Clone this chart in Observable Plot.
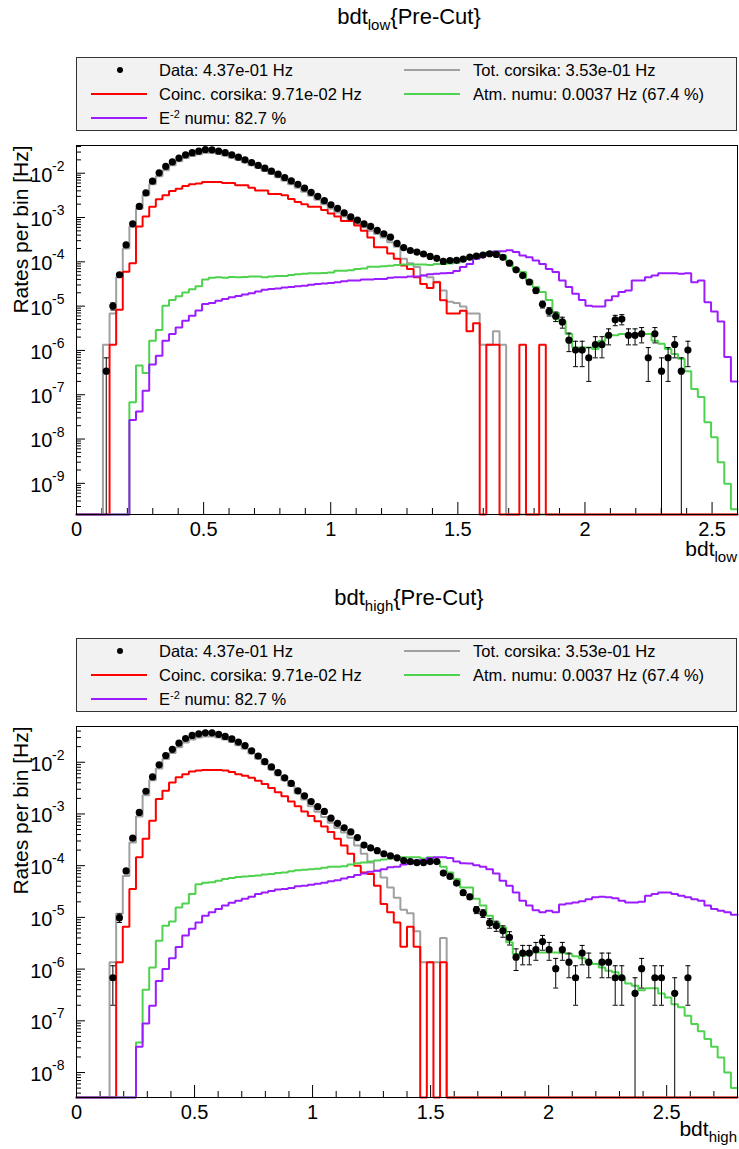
<!DOCTYPE html>
<html>
<head>
<meta charset="utf-8">
<script src="https://cdn.jsdelivr.net/npm/d3@7"></script>
<script src="https://cdn.jsdelivr.net/npm/@observablehq/plot@0.6"></script>
<style>
  html, body { margin: 0; padding: 0; background: #fff; }
  #page { position: relative; width: 739px; height: 1149px; overflow: hidden;
          font-family: "Liberation Sans", Arial, Helvetica, sans-serif; color: #000; }
  .title { position: absolute; left: 76px; width: 666px; text-align: center;
           font-size: 22px; line-height: 28px; white-space: nowrap; }
  .sub { position: relative; top: 6px; font-size: 15px; }
  .sup { position: relative; top: -6px; font-size: 11px; }
  .xtitle { position: absolute; right: 2px; font-size: 21px; line-height: 28px; white-space: nowrap; }
  .legend { position: absolute; left: 76px; width: 659px; background: #f2f2f2; border: 1px solid #333; }
  .entry { position: absolute; height: 22px; line-height: 22px; font-size: 16.5px; white-space: nowrap; }
  .swatch { position: absolute; height: 0; border-top: 2px solid; }
  .ldot { position: absolute; width: 6px; height: 6px; border-radius: 50%; background: #000; }
  .panel { position: absolute; left: 0; }
</style>
</head>
<body>
<div id="page"></div>
<script>
// ---------------- data (rates per bin, Hz), 100 bins each ----------------
// Panel 1: bdt_low, 100 bins on [0, 2.6]
const binWidth1 = 0.026;
const data1 = [
  0, 0, 0, 0, 3.4e-7, 1.0e-5, 5.1e-5, 2.4e-4, 7.2e-4, 1.78e-3,
  3.6e-3, 6.6e-3, 1.02e-2, 1.42e-2, 1.8e-2, 2.2e-2, 2.6e-2, 2.9e-2, 3.15e-2, 3.4e-2,
  3.37e-2, 3.15e-2, 2.9e-2, 2.6e-2, 2.3e-2, 2.0e-2, 1.74e-2, 1.5e-2, 1.3e-2, 1.11e-2,
  9.5e-3, 8.0e-3, 6.7e-3, 5.6e-3, 4.6e-3, 3.7e-3, 3.0e-3, 2.4e-3, 1.94e-3, 1.6e-3,
  1.27e-3, 1.03e-3, 8.7e-4, 7.2e-4, 6.3e-4, 5.1e-4, 4.3e-4, 3.6e-4, 2.6e-4, 2.1e-4,
  1.8e-4, 1.66e-4, 1.5e-4, 1.32e-4, 1.2e-4, 1.02e-4, 1.07e-4, 1.08e-4, 1.15e-4, 1.28e-4,
  1.35e-4, 1.42e-4, 1.52e-4, 1.47e-4, 1.26e-4, 9.3e-5, 6.6e-5, 4.9e-5, 3.5e-5, 2.24e-5,
  1.1e-5, 7.6e-6, 5.9e-6, 4.4e-6, 1.7e-6, 1.02e-6, 1.02e-6, 6.8e-7, 1.36e-6, 1.36e-6,
  2.2e-6, 4.9e-6, 5.1e-6, 2.2e-6, 2.2e-6, 2.38e-6, 6.8e-7, 2.38e-6, 3.4e-7, 6.8e-7,
  1.36e-6, 3.4e-7, 1.02e-6, 0, 0, 0, 0, 0, 0, 0
];
const err1 = [
  0, 0, 0, 0, 3.4e-7, 1.84e-6, 4.16e-6, 0, 0, 0,
  0, 0, 0, 0, 0, 0, 0, 0, 0, 0,
  0, 0, 0, 0, 0, 0, 0, 0, 0, 0,
  0, 0, 0, 0, 0, 0, 0, 0, 0, 0,
  0, 0, 0, 0, 0, 0, 0, 0, 0, 0,
  0, 0, 0, 0, 0, 0, 0, 0, 0, 0,
  0, 0, 0, 0, 6.5e-6, 5.6e-6, 4.7e-6, 4.1e-6, 3.45e-6, 2.76e-6,
  1.93e-6, 1.61e-6, 1.42e-6, 1.22e-6, 7.6e-7, 5.9e-7, 5.9e-7, 4.8e-7, 6.8e-7, 6.8e-7,
  8.65e-7, 1.29e-6, 1.32e-6, 8.65e-7, 8.65e-7, 9.0e-7, 4.8e-7, 9.0e-7, 3.4e-7, 4.8e-7,
  6.8e-7, 3.4e-7, 5.9e-7, 0, 0, 0, 0, 0, 0, 0
];
const totCorsika1 = [
  0, 0, 0, 0, 1.35e-6, 6.8e-6, 4.47e-5, 2.0e-4, 6.3e-4, 1.58e-3,
  3.16e-3, 5.62e-3, 8.5e-3, 1.17e-2, 1.51e-2, 1.86e-2, 2.19e-2, 2.45e-2, 2.69e-2, 2.88e-2,
  2.88e-2, 2.75e-2, 2.51e-2, 2.24e-2, 2.0e-2, 1.74e-2, 1.51e-2, 1.32e-2, 1.12e-2, 9.55e-3,
  8.13e-3, 6.76e-3, 5.62e-3, 4.68e-3, 3.8e-3, 3.09e-3, 2.51e-3, 2.0e-3, 1.58e-3, 1.29e-3,
  1.05e-3, 8.3e-4, 7.1e-4, 6.0e-4, 5.0e-4, 4.27e-4, 3.55e-4, 2.75e-4, 2.19e-4, 1.17e-4,
  9.3e-5, 7.6e-5, 4.9e-5, 4.47e-5, 3.55e-5, 2.24e-5, 1.26e-5, 1.17e-5, 9.8e-6, 6.8e-6,
  6.8e-6, 1.35e-6, 1.35e-6, 2.7e-6, 1.35e-6, 0, 0, 0, 0, 0,
  0, 0, 0, 0, 0, 0, 0, 0, 0, 0,
  0, 0, 0, 0, 0, 0, 0, 0, 0, 0,
  0, 0, 0, 0, 0, 0, 0, 0, 0, 0
];
const coincCorsika1 = [
  0, 0, 0, 0, 0, 1.35e-6, 8.3e-6, 6.0e-5, 9.3e-5, 6.3e-4,
  1.05e-3, 1.74e-3, 2.57e-3, 3.16e-3, 3.98e-3, 4.47e-3, 5.13e-3, 5.62e-3, 5.89e-3, 6.31e-3,
  6.31e-3, 6.31e-3, 6.03e-3, 6.03e-3, 5.37e-3, 5.37e-3, 4.68e-3, 4.07e-3, 4.07e-3, 3.39e-3,
  3.39e-3, 3.16e-3, 2.63e-3, 2.24e-3, 2.0e-3, 1.74e-3, 1.74e-3, 1.48e-3, 1.23e-3, 1.05e-3,
  8.3e-4, 8.3e-4, 6.6e-4, 5.0e-4, 3.55e-4, 2.14e-4, 2.14e-4, 1.55e-4, 1.17e-4, 8.3e-5,
  6.9e-5, 4.47e-5, 3.16e-5, 2.57e-5, 3.47e-5, 1.35e-5, 6.8e-6, 6.8e-6, 7.9e-6, 2.7e-6,
  4.1e-6, 0, 1.35e-6, 1.35e-6, 0, 0, 0, 1.35e-6, 0, 0,
  1.35e-6, 0, 0, 0, 0, 0, 0, 0, 0, 0,
  0, 0, 0, 0, 0, 0, 0, 0, 0, 0,
  0, 0, 0, 0, 0, 0, 0, 0, 0, 0
];
const atmNumu1 = [
  0, 0, 0, 0, 0, 0, 0, 0, 6.8e-8, 4.57e-7,
  3.09e-7, 1.66e-6, 2.88e-6, 1.02e-5, 1.38e-5, 1.66e-5, 2.04e-5, 2.4e-5, 2.82e-5, 3.98e-5,
  4.37e-5, 4.47e-5, 4.37e-5, 4.57e-5, 4.47e-5, 4.57e-5, 4.68e-5, 4.68e-5, 4.47e-5, 4.68e-5,
  4.79e-5, 4.79e-5, 5.01e-5, 5.25e-5, 5.37e-5, 5.5e-5, 5.5e-5, 5.62e-5, 5.75e-5, 6.31e-5,
  6.31e-5, 6.46e-5, 6.92e-5, 7.08e-5, 7.76e-5, 7.76e-5, 7.94e-5, 8.13e-5, 8.51e-5, 8.71e-5,
  8.71e-5, 8.71e-5, 8.71e-5, 8.51e-5, 8.91e-5, 8.91e-5, 9.12e-5, 9.55e-5, 1.12e-4, 1.26e-4,
  1.38e-4, 1.51e-4, 1.66e-4, 1.7e-4, 1.38e-4, 9.77e-5, 6.92e-5, 5.89e-5, 3.8e-5, 2.69e-5,
  2.09e-5, 1.38e-5, 7.08e-6, 4.57e-6, 2.34e-6, 1.17e-6, 1.17e-6, 1.17e-6, 1.07e-6, 1.66e-6,
  2.19e-6, 2.19e-6, 2.34e-6, 2.34e-6, 2.34e-6, 2.34e-6, 2.34e-6, 1.66e-6, 1.41e-6, 1.07e-6,
  8.3e-7, 6.46e-7, 3.39e-7, 1.35e-7, 8.9e-8, 2.4e-8, 1.1e-8, 3.0e-9, 9.8e-10, 2.6e-10
];
const e2Numu1 = [
  0, 0, 0, 0, 0, 0, 0, 0, 2.69e-8, 4.17e-8,
  1.23e-7, 4.79e-7, 7.59e-7, 1.66e-6, 2.34e-6, 3.31e-6, 4.68e-6, 6.03e-6, 7.94e-6, 1.12e-5,
  1.17e-5, 1.32e-5, 1.45e-5, 1.58e-5, 1.7e-5, 1.82e-5, 1.95e-5, 2.14e-5, 2.34e-5, 2.45e-5,
  2.51e-5, 2.63e-5, 2.69e-5, 2.82e-5, 2.88e-5, 3.02e-5, 3.16e-5, 3.24e-5, 3.31e-5, 3.47e-5,
  3.63e-5, 3.8e-5, 3.8e-5, 3.98e-5, 3.98e-5, 4.07e-5, 4.07e-5, 4.37e-5, 4.47e-5, 4.47e-5,
  4.68e-5, 4.68e-5, 4.9e-5, 5.25e-5, 5.37e-5, 5.5e-5, 5.62e-5, 6.17e-5, 7.59e-5, 8.91e-5,
  1.17e-4, 1.38e-4, 1.58e-4, 1.7e-4, 1.74e-4, 1.82e-4, 1.66e-4, 1.38e-4, 1.26e-4, 1.07e-4,
  8.91e-5, 6.92e-5, 5.89e-5, 3.8e-5, 2.69e-5, 1.91e-5, 1.38e-5, 1.02e-5, 9.77e-6, 9.77e-6,
  1.35e-5, 1.66e-5, 2.09e-5, 2.24e-5, 3.8e-5, 3.8e-5, 4.47e-5, 4.9e-5, 5.5e-5, 5.5e-5,
  5.5e-5, 5.37e-5, 5.5e-5, 3.47e-5, 3.8e-5, 1.23e-5, 7.59e-6, 4.47e-6, 7.08e-7, 2.0e-7
];

// Panel 2: bdt_high, 100 bins on [0, 2.8]
const binWidth2 = 0.028;
const data2 = [
  0, 0, 0, 0, 0, 6.8e-7, 9.8e-6, 7.9e-5, 3.4e-4, 1.07e-3,
  2.75e-3, 5.2e-3, 8.9e-3, 1.35e-2, 1.78e-2, 2.34e-2, 2.88e-2, 3.3e-2, 3.55e-2, 3.7e-2,
  3.7e-2, 3.47e-2, 3.16e-2, 2.82e-2, 2.45e-2, 2.1e-2, 1.66e-2, 1.32e-2, 1.03e-2, 8.1e-3,
  6.3e-3, 5.0e-3, 3.9e-3, 2.8e-3, 2.24e-3, 1.74e-3, 1.38e-3, 1.12e-3, 8.3e-4, 6.6e-4,
  5.4e-4, 4.5e-4, 3.5e-4, 2.5e-4, 2.2e-4, 1.95e-4, 1.7e-4, 1.55e-4, 1.42e-4, 1.26e-4,
  1.2e-4, 1.15e-4, 1.15e-4, 1.2e-4, 1.2e-4, 7.2e-5, 6.2e-5, 4.6e-5, 3.0e-5, 2.5e-5,
  1.4e-5, 1.2e-5, 7.8e-6, 6.9e-6, 5.5e-6, 4.1e-6, 1.7e-6, 2.04e-6, 2.04e-6, 2.38e-6,
  3.4e-6, 2.38e-6, 1.02e-6, 2.38e-6, 1.36e-6, 6.8e-7, 2.04e-6, 1.36e-6, 0, 1.36e-6,
  1.36e-6, 6.8e-7, 6.8e-7, 0, 3.4e-7, 1.02e-6, 0, 6.8e-7, 6.8e-7, 0,
  3.4e-7, 0, 6.8e-7, 0, 0, 0, 0, 0, 0, 0
];
const err2 = [
  0, 0, 0, 0, 0, 4.8e-7, 1.83e-6, 5.2e-6, 0, 0,
  0, 0, 0, 0, 0, 0, 0, 0, 0, 0,
  0, 0, 0, 0, 0, 0, 0, 0, 0, 0,
  0, 0, 0, 0, 0, 0, 0, 0, 0, 0,
  0, 0, 0, 0, 0, 0, 0, 0, 0, 0,
  0, 0, 0, 0, 0, 4.9e-6, 4.6e-6, 4.0e-6, 3.19e-6, 2.92e-6,
  2.18e-6, 2.02e-6, 1.63e-6, 1.53e-6, 1.37e-6, 1.18e-6, 7.6e-7, 8.3e-7, 8.3e-7, 9.0e-7,
  1.08e-6, 9.0e-7, 5.9e-7, 9.0e-7, 6.8e-7, 4.8e-7, 8.3e-7, 6.8e-7, 0, 6.8e-7,
  6.8e-7, 4.8e-7, 4.8e-7, 0, 3.4e-7, 5.9e-7, 0, 4.8e-7, 4.8e-7, 0,
  3.4e-7, 0, 4.8e-7, 0, 0, 0, 0, 0, 0, 0
];
const totCorsika2 = [
  0, 0, 0, 0, 0, 1.35e-6, 1.17e-5, 6.31e-5, 2.82e-4, 8.9e-4,
  2.29e-3, 4.47e-3, 7.59e-3, 1.15e-2, 1.51e-2, 1.95e-2, 2.4e-2, 2.75e-2, 3.02e-2, 3.16e-2,
  3.16e-2, 3.02e-2, 2.75e-2, 2.45e-2, 2.14e-2, 1.82e-2, 1.48e-2, 1.17e-2, 9.12e-3, 7.24e-3,
  5.62e-3, 4.47e-3, 3.47e-3, 2.51e-3, 1.91e-3, 1.41e-3, 1.1e-3, 8.7e-4, 6.76e-4, 5.37e-4,
  4.37e-4, 3.47e-4, 2.45e-4, 1.7e-4, 1.15e-4, 7.94e-5, 5.89e-5, 3.8e-5, 2.4e-5, 1.41e-5,
  1.2e-5, 5.37e-6, 1.35e-6, 1.35e-6, 1.35e-6, 3.98e-6, 0, 0, 0, 0,
  0, 0, 0, 0, 0, 0, 0, 0, 0, 0,
  0, 0, 0, 0, 0, 0, 0, 0, 0, 0,
  0, 0, 0, 0, 0, 0, 0, 0, 0, 0,
  0, 0, 0, 0, 0, 0, 0, 0, 0, 0
];
const coincCorsika2 = [
  0, 0, 0, 0, 0, 0, 1.35e-6, 6.6e-6, 3.55e-5, 1.45e-4,
  3.31e-4, 7.41e-4, 1.95e-3, 2.82e-3, 4.07e-3, 5.13e-3, 5.89e-3, 6.61e-3, 6.92e-3, 7.08e-3,
  7.08e-3, 7.08e-3, 6.92e-3, 6.46e-3, 5.89e-3, 5.5e-3, 5.01e-3, 4.37e-3, 3.8e-3, 3.16e-3,
  2.63e-3, 2.19e-3, 1.74e-3, 1.41e-3, 1.12e-3, 9.12e-4, 7.24e-4, 5.75e-4, 4.47e-4, 3.31e-4,
  2.45e-4, 1.7e-4, 1.0e-4, 7.41e-5, 6.92e-5, 4.07e-5, 1.82e-5, 1.26e-5, 7.94e-6, 2.7e-6,
  6.6e-6, 2.7e-6, 0, 1.35e-6, 0, 1.35e-6, 0, 0, 0, 0,
  0, 0, 0, 0, 0, 0, 0, 0, 0, 0,
  0, 0, 0, 0, 0, 0, 0, 0, 0, 0,
  0, 0, 0, 0, 0, 0, 0, 0, 0, 0,
  0, 0, 0, 0, 0, 0, 0, 0, 0, 0
];
const atmNumu2 = [
  0, 0, 0, 0, 0, 0, 0, 0, 0, 3.8e-8,
  3.98e-7, 1.07e-6, 3.55e-6, 6.92e-6, 8.32e-6, 1.55e-5, 1.86e-5, 2.82e-5, 4.37e-5, 4.68e-5,
  4.79e-5, 5.13e-5, 5.5e-5, 5.75e-5, 6.03e-5, 6.17e-5, 6.31e-5, 6.46e-5, 6.76e-5, 6.92e-5,
  7.24e-5, 7.41e-5, 7.76e-5, 8.13e-5, 8.32e-5, 8.51e-5, 8.71e-5, 9.12e-5, 9.55e-5, 9.55e-5,
  9.77e-5, 1.05e-4, 1.12e-4, 1.15e-4, 1.2e-4, 1.26e-4, 1.32e-4, 1.38e-4, 1.41e-4, 1.45e-4,
  1.45e-4, 1.45e-4, 1.38e-4, 1.45e-4, 1.2e-4, 9.55e-5, 7.41e-5, 5.5e-5, 3.8e-5, 3.8e-5,
  2.29e-5, 1.7e-5, 1.07e-5, 7.94e-6, 6.46e-6, 3.31e-6, 1.95e-6, 1.82e-6, 1.95e-6, 2.09e-6,
  2.09e-6, 2.09e-6, 2.09e-6, 2.04e-6, 1.95e-6, 1.78e-6, 1.62e-6, 1.35e-6, 1.26e-6, 1.07e-6,
  9.33e-7, 8.71e-7, 6.76e-7, 5.25e-7, 4.79e-7, 3.89e-7, 4.27e-7, 4.27e-7, 3.39e-7, 2.82e-7,
  2.09e-7, 1.82e-7, 1.26e-7, 8.71e-8, 6.31e-8, 4.47e-8, 3.16e-8, 1.95e-8, 1.0e-8, 5.0e-9
];
const e2Numu2 = [
  0, 0, 0, 0, 0, 0, 0, 0, 0, 3.16e-8,
  8.91e-8, 1.95e-7, 5.89e-7, 1.0e-6, 1.62e-6, 2.69e-6, 4.47e-6, 6.03e-6, 7.94e-6, 1.07e-5,
  1.26e-5, 1.45e-5, 1.7e-5, 1.91e-5, 2.09e-5, 2.29e-5, 2.51e-5, 2.82e-5, 3.02e-5, 3.24e-5,
  3.47e-5, 3.55e-5, 3.72e-5, 3.98e-5, 4.07e-5, 4.27e-5, 4.47e-5, 4.68e-5, 5.01e-5, 5.25e-5,
  5.62e-5, 6.03e-5, 6.61e-5, 7.08e-5, 7.59e-5, 7.94e-5, 8.51e-5, 9.33e-5, 9.55e-5, 1.05e-4,
  1.1e-4, 1.26e-4, 1.29e-4, 1.41e-4, 1.45e-4, 1.45e-4, 1.41e-4, 1.2e-4, 1.12e-4, 1.1e-4,
  1.02e-4, 9.55e-5, 8.51e-5, 7.08e-5, 5.13e-5, 4.07e-5, 3.02e-5, 2.09e-5, 1.7e-5, 1.38e-5,
  1.26e-5, 1.35e-5, 1.26e-5, 1.78e-5, 1.86e-5, 1.95e-5, 2.04e-5, 2.24e-5, 2.45e-5, 2.51e-5,
  2.45e-5, 2.34e-5, 2.09e-5, 1.95e-5, 1.95e-5, 2.0e-5, 2.63e-5, 2.82e-5, 3.02e-5, 3.02e-5,
  2.82e-5, 2.63e-5, 2.45e-5, 2.24e-5, 2.09e-5, 1.7e-5, 1.45e-5, 1.35e-5, 1.26e-5, 1.12e-5
];

// tick labels
const xTickLabels1 = [0, 0.5, 1, 1.5, 2, 2.5];
const xTickLabels2 = [0, 0.5, 1, 1.5, 2, 2.5];
const legendLabels = {
  data: "Data: 4.37e-01 Hz",
  tot: "Tot. corsika: 3.53e-01 Hz",
  coinc: "Coinc. corsika: 9.71e-02 Hz",
  atm: "Atm. numu: 0.0037 Hz (67.4 %)",
  e2: "E<span class=\"sup\">-2</span> numu: 82.7 %"
};

// ---------------- styles ----------------
const COL = { gray: "#a0a0a0", red: "#ff0000", green: "#4fd24f", purple: "#9b1cff" };
const FONT = "'Liberation Sans', Arial, Helvetica, sans-serif";

const page = document.getElementById("page");

function addHTML(cls, style, html) {
  const d = document.createElement("div");
  d.className = cls;
  Object.assign(d.style, style);
  d.innerHTML = html;
  page.appendChild(d);
  return d;
}

function addLegend(top, height) {
  const box = addHTML("legend", { top: top + "px", height: height + "px" }, "");
  const row = height / 3;
  const entries = [
    { col: 0, r: 0, kind: "dot", html: legendLabels.data },
    { col: 1, r: 0, kind: "line", color: COL.gray, html: legendLabels.tot },
    { col: 0, r: 1, kind: "line", color: COL.red, html: legendLabels.coinc },
    { col: 1, r: 1, kind: "line", color: COL.green, html: legendLabels.atm },
    { col: 0, r: 2, kind: "line", color: COL.purple, html: legendLabels.e2 }
  ];
  for (const e of entries) {
    const cy = row * (e.r + 0.5);
    const sx = e.col === 0 ? 14 : 327, tx = e.col === 0 ? 82 : 396;
    if (e.kind === "dot") {
      const m = document.createElement("div");
      m.className = "ldot";
      Object.assign(m.style, { left: (43 - 3) + "px", top: (cy - 3) + "px" });
      box.appendChild(m);
    } else {
      const s = document.createElement("div");
      s.className = "swatch";
      Object.assign(s.style, { left: sx + "px", width: "56px", top: (cy - 1) + "px", borderColor: e.color });
      box.appendChild(s);
    }
    const t = document.createElement("div");
    t.className = "entry";
    Object.assign(t.style, { left: tx + "px", top: (cy - 11) + "px" });
    t.innerHTML = e.html;
    box.appendChild(t);
  }
}

const capSymbol = {
  draw(ctx, size) {
    const r = Math.sqrt(size / Math.PI);
    ctx.moveTo(-r, 0);
    ctx.lineTo(r, 0);
  }
};

function steps(vals, w, floor) {
  const pts = vals.map((v, i) => ({ x: i * w, y: v > 0 ? v : floor }));
  pts.push({ x: vals.length * w, y: pts[pts.length - 1].y });
  return pts;
}

function makePanel(o) {
  const { w, xMax, yMin, yMax, innerH, marginBottom, data, err, tot, coinc, atm, e2, xTicks } = o;
  const majorY = d3.range(-12, 1).map(e => Math.pow(10, e)).filter(v => v >= yMin && v <= yMax);
  const minorY = [];
  for (let e = -12; e <= 0; e++) for (let k = 2; k <= 9; k++) {
    const v = k * Math.pow(10, e);
    if (v > yMin && v < yMax) minorY.push(v);
  }
  const minorX = d3.range(1, Math.round(xMax * 10)).map(i => i / 10).filter(v => Math.abs(v * 2 - Math.round(v * 2)) > 1e-6);
  const pts = data.map((v, i) => ({ x: (i + 0.5) * w, y: v, e: err[i] })).filter(d => d.y > 0);
  const eb = pts.filter(d => d.e > 0);
  const line = (vals, color) => Plot.line(steps(vals, w, yMin), {
    x: "x", y: "y", curve: "step-after", stroke: color, strokeWidth: 2, strokeLinejoin: "miter"
  });
  return Plot.plot({
    width: 739,
    height: 10 + innerH + marginBottom,
    marginLeft: 76, marginRight: 2, marginTop: 10, marginBottom,
    x: { domain: [0, xMax], axis: null, label: null },
    y: { type: "log", domain: [yMin, yMax], axis: null, label: null },
    style: { fontFamily: FONT, background: "transparent", color: "#000", overflow: "visible" },
    marks: [
      Plot.axisX({ ticks: minorX, tickSize: -6, tickFormat: () => "", label: null }),
      Plot.axisX({ ticks: xTicks, tickSize: -12, tickPadding: 19, tickFormat: d => String(d), fontSize: 20, label: null }),
      Plot.axisY({ ticks: minorY, tickSize: -5, tickFormat: () => "", label: null }),
      Plot.axisY({ ticks: majorY, tickSize: -9, tickFormat: () => "", label: null }),
      Plot.text(majorY, { y: d => d, text: () => "10", frameAnchor: "left", textAnchor: "end", dx: -24, dy: 2, fontSize: 20 }),
      Plot.text(majorY, { y: d => d, text: d => String(Math.round(Math.log10(d))), frameAnchor: "left", textAnchor: "end", lineAnchor: "bottom", dx: -12, dy: -2.5, fontSize: 14 }),
      Plot.text(["Rates per bin [Hz]"], { frameAnchor: "top-left", rotate: -90, textAnchor: "end", dx: -63, fontSize: 21 }),
      line(tot, COL.gray),
      line(coinc, COL.red),
      line(atm, COL.green),
      line(e2, COL.purple),
      Plot.ruleX(eb, { x: "x", y1: d => Math.max(d.y - d.e, yMin), y2: d => d.y + d.e, stroke: "#000", strokeWidth: 1 }),
      Plot.dot(eb, { x: "x", y: d => d.y + d.e, symbol: capSymbol, r: 2.5, fill: "none", stroke: "#000", strokeWidth: 1 }),
      Plot.dot(eb.filter(d => d.y - d.e > 0), { x: "x", y: d => d.y - d.e, symbol: capSymbol, r: 2.5, fill: "none", stroke: "#000", strokeWidth: 1 }),
      Plot.dot(pts, { x: "x", y: "y", r: 3.6, fill: "#000", stroke: "none" }),
      Plot.frame({ stroke: "#000", strokeWidth: 1 })
    ]
  });
}

function addPanel(top, svg) {
  const wrap = document.createElement("div");
  wrap.className = "panel";
  wrap.style.top = top + "px";
  wrap.appendChild(svg);
  page.appendChild(wrap);
}

// ---------------- panel 1 ----------------
addHTML("title", { top: "3px" }, 'bdt<span class="sub">low</span>{Pre-Cut}');
addLegend(57, 72);
addPanel(135, makePanel({
  w: binWidth1, xMax: 2.6, yMin: 1.98e-10, yMax: 0.0422, innerH: 369, marginBottom: 60,
  data: data1, err: err1, tot: totCorsika1, coinc: coincCorsika1, atm: atmNumu1, e2: e2Numu1, xTicks: xTickLabels1
}));
addHTML("xtitle", { top: "535px" }, 'bdt<span class="sub">low</span>');

// ---------------- panel 2 ----------------
addHTML("title", { top: "584px" }, 'bdt<span class="sub">high</span>{Pre-Cut}');
addLegend(638, 72);
addPanel(716, makePanel({
  w: binWidth2, xMax: 2.8, yMin: 3.29e-9, yMax: 0.0491, innerH: 371, marginBottom: 52,
  data: data2, err: err2, tot: totCorsika2, coinc: coincCorsika2, atm: atmNumu2, e2: e2Numu2, xTicks: xTickLabels2
}));
addHTML("xtitle", { top: "1115px" }, 'bdt<span class="sub">high</span>');
</script>
</body>
</html>
